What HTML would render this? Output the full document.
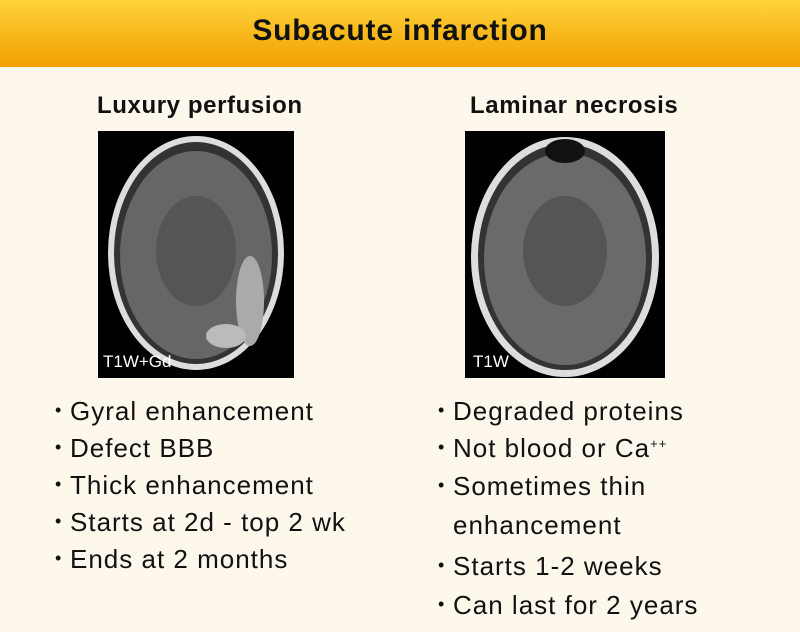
<!DOCTYPE html>
<html><head><style>
body{margin:0;width:800px;height:632px;background:#fef8ec;position:relative;overflow:hidden;font-family:"Liberation Sans",sans-serif}
.hdr{position:absolute;left:0;top:0;width:800px;height:67px;background:linear-gradient(#ffd23a,#f0a000)}
.t{position:absolute;left:0;width:800px;top:14px;text-align:center;font-weight:bold;font-size:30px;letter-spacing:0.8px;color:#111}
.sub{position:absolute;font-weight:bold;font-size:24px;color:#111;letter-spacing:0.6px}
.b{position:absolute;font-size:26px;letter-spacing:1px;color:#111;white-space:nowrap}
.b::before{content:"•";position:absolute;left:-15px;font-size:18px;top:4px}
.lab{position:absolute;color:#fff;font-size:17px}
</style></head><body>
<div class="hdr"><div class="t">Subacute infarction</div></div>
<div class="sub" style="left:97px;top:92px">Luxury perfusion</div>
<div class="sub" style="left:470px;top:92px">Laminar necrosis</div>

<svg style="position:absolute;left:98px;top:131px" width="196" height="247">
<rect width="196" height="247" fill="#000"/>
<ellipse cx="98" cy="122" rx="88" ry="117" fill="#ddd"/>
<ellipse cx="98" cy="122" rx="82" ry="111" fill="#333"/>
<ellipse cx="98" cy="124" rx="76" ry="104" fill="#666"/>
<ellipse cx="98" cy="120" rx="40" ry="55" fill="#555"/>
<ellipse cx="152" cy="170" rx="14" ry="45" fill="#aaa"/>
<ellipse cx="128" cy="205" rx="20" ry="12" fill="#bbb"/>
</svg>
<div class="lab" style="left:103px;top:352px">T1W+Gd</div>

<svg style="position:absolute;left:465px;top:131px" width="200" height="247">
<rect width="200" height="247" fill="#000"/>
<ellipse cx="100" cy="126" rx="94" ry="120" fill="#ddd"/>
<ellipse cx="100" cy="126" rx="87" ry="113" fill="#333"/>
<ellipse cx="100" cy="128" rx="81" ry="106" fill="#6a6a6a"/>
<ellipse cx="100" cy="120" rx="42" ry="55" fill="#555"/>
<ellipse cx="100" cy="20" rx="20" ry="12" fill="#111"/>
</svg>
<div class="lab" style="left:473px;top:352px">T1W</div>

<div class="b" style="left:70px;top:396px">Gyral enhancement</div>
<div class="b" style="left:70px;top:433px">Defect BBB</div>
<div class="b" style="left:70px;top:470px">Thick enhancement</div>
<div class="b" style="left:70px;top:507px">Starts at 2d - top 2 wk</div>
<div class="b" style="left:70px;top:544px">Ends at 2 months</div>

<div class="b" style="left:453px;top:396px">Degraded proteins</div>
<div class="b" style="left:453px;top:433px">Not blood or Ca<span style="font-size:13px;vertical-align:9px">++</span></div>
<div class="b" style="left:453px;top:471px">Sometimes thin</div>
<div class="b nb" style="left:453px;top:510px;">enhancement</div>
<div class="b" style="left:453px;top:551px">Starts 1-2 weeks</div>
<div class="b" style="left:453px;top:590px">Can last for 2 years</div>
<style>.nb::before{content:""}</style>
</body></html>
